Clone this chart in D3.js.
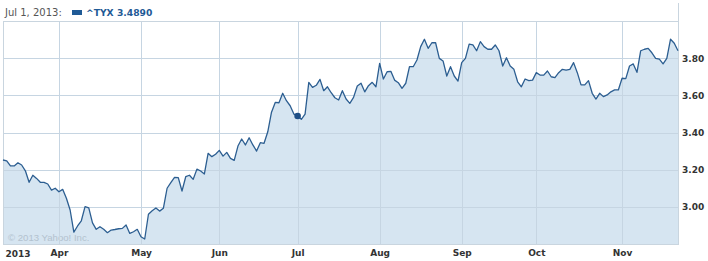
<!DOCTYPE html>
<html><head><meta charset="utf-8">
<script src="https://cdn.jsdelivr.net/npm/d3@7"></script>
<style>
html,body{margin:0;padding:0;background:#fff;}
svg{display:block;}
</style></head>
<body>
<svg id="chart" width="708" height="261"></svg>
<script>
// ---- data ----
const seriesName = "^TYX";
const headerDate = "Jul 1, 2013:";
const markedIndex = 79;
const markedValue = 3.4890;
const values = [
3.252,3.247,3.220,3.220,3.237,3.225,3.194,3.132,3.170,3.153,
3.132,3.132,3.123,3.090,3.100,3.081,3.094,3.046,2.983,2.864,
2.897,2.925,3.001,2.994,2.914,2.879,2.893,2.879,2.861,2.875,
2.878,2.882,2.884,2.902,2.857,2.866,2.879,2.839,2.827,2.960,
2.979,2.994,2.977,2.992,3.100,3.130,3.159,3.157,3.085,3.162,
3.170,3.148,3.203,3.193,3.177,3.288,3.270,3.283,3.304,3.273,
3.293,3.261,3.250,3.327,3.365,3.333,3.372,3.333,3.300,3.345,
3.342,3.404,3.509,3.562,3.560,3.611,3.571,3.544,3.499,3.489,
3.471,3.499,3.670,3.643,3.654,3.686,3.625,3.646,3.614,3.587,
3.575,3.625,3.580,3.557,3.589,3.650,3.665,3.619,3.652,3.670,
3.646,3.772,3.688,3.727,3.729,3.682,3.668,3.638,3.665,3.754,
3.754,3.790,3.862,3.902,3.853,3.883,3.883,3.799,3.785,3.704,
3.754,3.704,3.677,3.776,3.799,3.876,3.871,3.840,3.889,3.862,
3.848,3.848,3.871,3.840,3.758,3.802,3.758,3.740,3.673,3.646,
3.688,3.679,3.682,3.722,3.709,3.709,3.731,3.700,3.695,3.722,
3.740,3.736,3.740,3.776,3.722,3.656,3.656,3.679,3.611,3.580,
3.611,3.593,3.602,3.619,3.629,3.629,3.692,3.690,3.758,3.769,
3.724,3.840,3.848,3.853,3.829,3.799,3.795,3.769,3.799,3.902,
3.880,3.840
];
const yearLabel = "2013";
const monthLabels = ["Apr","May","Jun","Jul","Aug","Sep","Oct","Nov"];
const monthIndex  = [15,37,58,79,101,123,143,166];
const yTicks = [3.00,3.20,3.40,3.60,3.80];
const yDomain = [2.80,4.00];
const copyright = "\u00A9 2013 Yahoo! Inc.";

// ---- layout ----
const L = 3, R = 678, T = 21, B = 244;
const svg = d3.select("#chart");
const x = d3.scaleLinear().domain([0, values.length - 1]).range([L, R]);
const y = d3.scaleLinear().domain(yDomain).range([B, T]);

const lineCol = "#2c5e91", fillCol = "#d6e5f1", gridCol = "#c6d5e2";

// area
const area = d3.area().x((d,i)=>x(i)).y0(B).y1(d=>y(d));
svg.append("path").datum(values).attr("d", area).attr("fill", fillCol);

// copyright (under grid/line)
svg.append("text").attr("x", 8).attr("y", 240.5)
  .attr("font-family","Liberation Sans, Arial, sans-serif").attr("font-size", 9.6)
  .attr("fill","#b3c2cf").text(copyright);

// gridlines
const grid = svg.append("g").attr("stroke", gridCol).attr("stroke-width", 1).attr("shape-rendering","crispEdges");
grid.selectAll("line.v").data(monthIndex).join("line")
  .attr("x1", d=>Math.round(x(d))+0.5).attr("x2", d=>Math.round(x(d))+0.5)
  .attr("y1", T).attr("y2", B);
grid.selectAll("line.h").data(yTicks).join("line")
  .attr("x1", L).attr("x2", R)
  .attr("y1", d=>Math.round(y(d))+0.5).attr("y2", d=>Math.round(y(d))+0.5);

// frame
const frame = svg.append("g").attr("stroke", "#c9d5df").attr("fill","none").attr("shape-rendering","crispEdges");
frame.append("line").attr("x1", L+0.5).attr("x2", L+0.5).attr("y1", T).attr("y2", B+0.5);
frame.append("line").attr("x1", R+0.5).attr("x2", R+0.5).attr("y1", 3).attr("y2", B+0.5);
frame.append("line").attr("x1", L).attr("x2", R+1).attr("y1", T+0.5).attr("y2", T+0.5);
frame.append("line").attr("x1", L).attr("x2", R+1).attr("y1", B+0.5).attr("y2", B+0.5);

// line
const line = d3.line().x((d,i)=>x(i)).y(d=>y(d));
svg.append("path").datum(values).attr("d", line)
  .attr("fill","none").attr("stroke", lineCol).attr("stroke-width", 1.3).attr("stroke-linejoin","round");

// marker
svg.append("circle").attr("cx", x(markedIndex)).attr("cy", y(markedValue)).attr("r", 3.3).attr("fill", "#1f4f86");

// y axis labels
const yAxis = d3.axisRight(y).tickValues(yTicks).tickFormat(d3.format(".2f")).tickSize(0).tickPadding(4);
const gy = svg.append("g").attr("transform", `translate(${R},0)`).call(yAxis);
gy.select(".domain").remove();
gy.selectAll("text").attr("font-family","DejaVu Sans, Verdana, sans-serif").attr("font-size", 9)
  .attr("font-weight","bold").attr("fill","#333").attr("dy","0.34em");

// x axis labels
const xAxis = d3.axisBottom(x).tickValues(monthIndex).tickFormat((d,i)=>monthLabels[i]).tickSize(0).tickPadding(6);
const gx = svg.append("g").attr("transform", `translate(0,${B})`).call(xAxis);
gx.select(".domain").remove();
gx.selectAll("text").attr("font-family","DejaVu Sans, Verdana, sans-serif").attr("font-size", 9)
  .attr("font-weight","bold").attr("fill","#333");
svg.append("text").attr("x", 5.5).attr("y", 257).attr("font-family","DejaVu Sans, Verdana, sans-serif")
  .attr("font-size", 9).attr("font-weight","bold").attr("fill","#333").text(yearLabel);

// header
svg.append("text").attr("x", 5).attr("y", 16).attr("font-family","DejaVu Sans, Verdana, sans-serif")
  .attr("font-size", 10).attr("fill","#555").text(headerDate);
svg.append("rect").attr("x", 72).attr("y", 10).attr("width", 10).attr("height", 5).attr("fill", "#1f5a96");
svg.append("text").attr("x", 86).attr("y", 16).attr("font-family","DejaVu Sans, Verdana, sans-serif")
  .attr("font-size", 9.2).attr("font-weight","bold").attr("fill","#1f5a96")
  .text(`${seriesName} ${d3.format(".4f")(markedValue)}`);
</script>
</body></html>
